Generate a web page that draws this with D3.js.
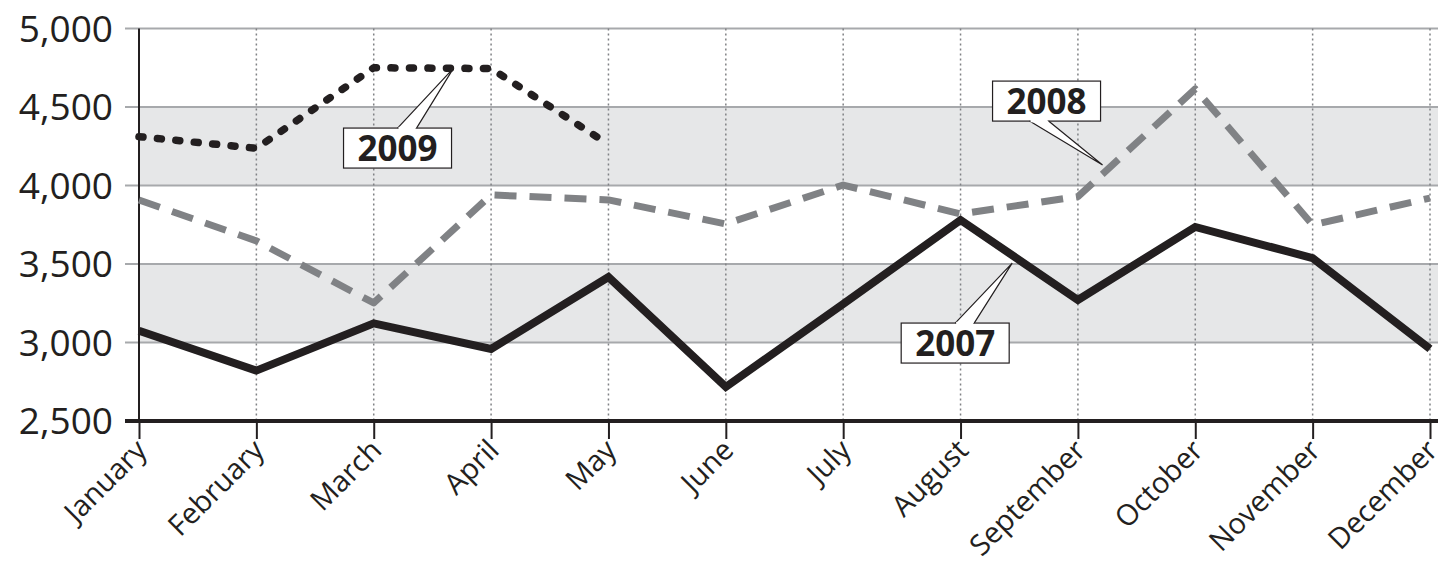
<!DOCTYPE html>
<html>
<head>
<meta charset="utf-8">
<script src="https://cdn.jsdelivr.net/npm/d3@7"></script>
<style>
  body { margin: 0; background: #fff; }
  text { font-family: "Open Sans", "Noto Sans", sans-serif; fill: #231f20; }
</style>
</head>
<body>
<div id="chart"></div>
<script>
const months = ["January", "February", "March", "April", "May", "June", "July",
  "August", "September", "October", "November", "December"]
const yTicks = [2500, 3000, 3500, 4000, 4500, 5000]
const bands = [[3000, 3500], [4000, 4500]]

const values2007 = [3075, 2821, 3122, 2959, 3417, 2717, 3245, 3780, 3271, 3736, 3538, 2959]
const values2008 = [3908, 3647, 3252, 3940, 3908, 3755, 4003, 3819, 3929, 4615, 3749, 3920]
const values2009 = [4311, 4237, 4750, 4745, 4262]

// callouts: label, pointer tip (month index, value), box centre offset, pointer base offset
const callouts = [
  { label: "2009", at: 2.68, value: 4748, dx: -56, dy: 80, px: 0 },
  { label: "2008", at: 8.21, value: 4130, dx: -56, dy: -64, px: -17 },
  { label: "2007", at: 7.44, value: 3506, dx: -57, dy: 80, px: 0 }
]

const W = 1438, H = 568
const MARGIN = { LEFT: 139, RIGHT: 8, TOP: 28.5, BOTTOM: 147 }

const svg = d3.select("#chart").append("svg")
  .attr("width", W).attr("height", H)

const x = d3.scaleLinear().domain([0, 11]).range([MARGIN.LEFT, W - MARGIN.RIGHT])
const y = d3.scaleLinear().domain([2500, 5000]).range([H - MARGIN.BOTTOM, MARGIN.TOP])

// shaded bands
svg.selectAll(".band").data(bands).join("rect")
  .attr("x", x(0)).attr("width", W - x(0))
  .attr("y", d => y(d[1])).attr("height", d => y(d[0]) - y(d[1]))
  .attr("fill", "#e6e7e8")

// horizontal grid
svg.selectAll(".hgrid").data(yTicks.filter(d => d > 2500)).join("line")
  .attr("x1", x(0) - 14).attr("x2", W)
  .attr("y1", d => y(d)).attr("y2", d => y(d))
  .attr("stroke", "#a7a9ac").attr("stroke-width", 2)

// vertical dotted grid
svg.selectAll(".vgrid").data(months.slice(1)).join("line")
  .attr("x1", (d, i) => x(i + 1)).attr("x2", (d, i) => x(i + 1))
  .attr("y1", y(5000)).attr("y2", y(2500))
  .attr("stroke", "#808285").attr("stroke-width", 1.5)
  .attr("stroke-dasharray", "2,3")

// y axis line
svg.append("line")
  .attr("x1", x(0)).attr("x2", x(0))
  .attr("y1", y(5000)).attr("y2", y(2500))
  .attr("stroke", "#231f20").attr("stroke-width", 2)

// y labels
svg.selectAll(".ylab").data(yTicks).join("text")
  .attr("x", x(0) - 26).attr("y", d => y(d))
  .attr("dy", "0.36em")
  .attr("text-anchor", "end")
  .attr("font-size", 37)
  .text(d => d3.format(",")(d))

// x axis
const xAxis = d3.axisBottom(x)
  .tickValues(d3.range(12))
  .tickSize(18)
  .tickFormat(i => months[i])
const gx = svg.append("g")
  .attr("transform", `translate(0, ${y(2500)})`)
  .call(xAxis)
gx.select(".domain").remove()
gx.selectAll(".tick line").attr("stroke", "#231f20").attr("stroke-width", 2)
gx.selectAll(".tick text")
  .attr("font-size", 29)
  .attr("fill", "#231f20")
  .attr("text-anchor", "end")
  .attr("y", 0).attr("dy", 0)
  .attr("transform", "translate(9, 31) rotate(-45)")
svg.append("line")
  .attr("x1", x(0) - 14).attr("x2", W)
  .attr("y1", y(2500)).attr("y2", y(2500))
  .attr("stroke", "#231f20").attr("stroke-width", 4)

// lines
const line = d3.line().x((d, i) => x(i)).y(d => y(d))

svg.append("path").attr("d", line(values2008))
  .attr("fill", "none").attr("stroke", "#808285").attr("stroke-width", 7)
  .attr("stroke-dasharray", "22,13").attr("stroke-linejoin", "round")

svg.append("path").attr("d", line(values2007))
  .attr("fill", "none").attr("stroke", "#231f20").attr("stroke-width", 8)
  .attr("stroke-linejoin", "miter")

svg.append("path").attr("d", line(values2009))
  .attr("fill", "none").attr("stroke", "#231f20").attr("stroke-width", 7.5)
  .attr("stroke-dasharray", "4,14.5").attr("stroke-linecap", "round")
  .attr("stroke-linejoin", "round")

// callouts
const boxW = 108, boxH = 40
callouts.forEach(c => {
  const ax = x(c.at), ay = y(c.value)
  const cx = ax + c.dx, cy = ay + c.dy
  const bx = cx + c.px
  const edgeY = c.dy > 0 ? cy - boxH / 2 : cy + boxH / 2
  const g = svg.append("g")
  g.append("rect")
    .attr("x", cx - boxW / 2).attr("y", cy - boxH / 2)
    .attr("width", boxW).attr("height", boxH)
    .attr("fill", "#fff").attr("stroke", "#231f20").attr("stroke-width", 1.2)
  g.append("path")
    .attr("d", `M${bx},${edgeY} L${ax},${ay} L${bx + 19},${edgeY}`)
    .attr("fill", "#fff").attr("stroke", "#231f20").attr("stroke-width", 1.2)
  g.append("line")
    .attr("x1", bx + 1).attr("x2", bx + 18)
    .attr("y1", edgeY).attr("y2", edgeY)
    .attr("stroke", "#fff").attr("stroke-width", 2.5)
  g.append("text")
    .attr("x", cx).attr("y", cy).attr("dy", "0.36em")
    .attr("text-anchor", "middle")
    .attr("font-size", 35).attr("font-weight", "bold")
    .text(c.label)
})
</script>
</body>
</html>
